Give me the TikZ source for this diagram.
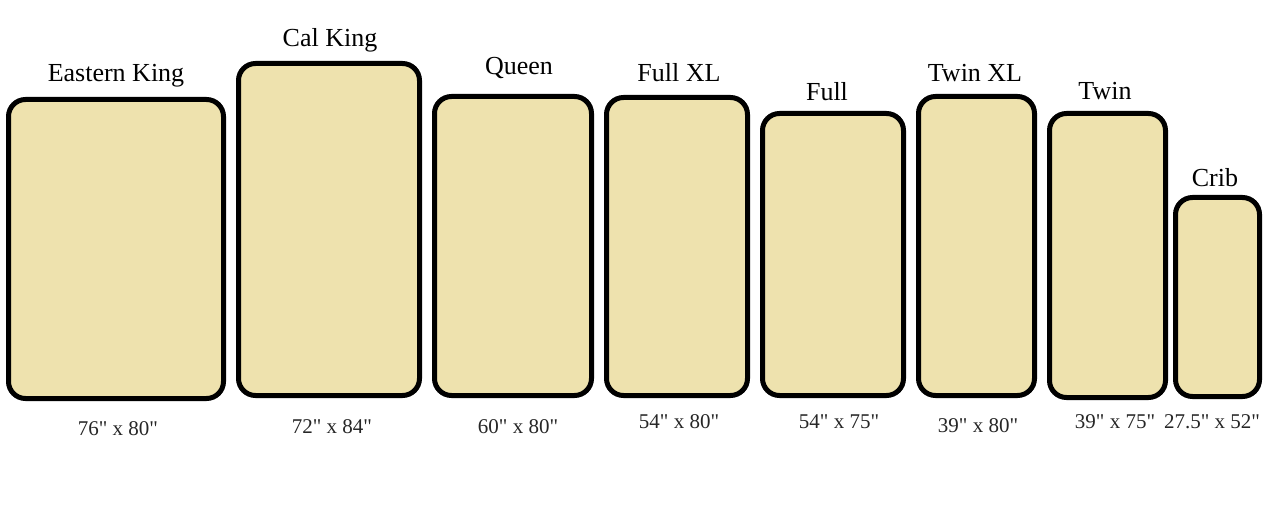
\documentclass[tikz,border=0pt]{standalone}
\usepackage{fontspec}
\setmainfont{Liberation Serif}[Ligatures=TeXOff]
\definecolor{mattressfill}{RGB}{238,226,174}
\tikzset{
  mattress/.style={draw=black, line width=5pt, fill=mattressfill, rounded corners=17pt},
  sizename/.style={anchor=base, font=\fontsize{26}{30}\selectfont, inner sep=0pt},
  sizedim/.style={anchor=base, font=\fontsize{21}{25}\selectfont, text=black!85, inner sep=0pt}
}
\begin{document}
\begin{tikzpicture}[x=1pt, y=-1pt]
  \useasboundingbox (0,0) rectangle (1269,505);

  % mattresses
  \draw[mattress] (8.5,99.5) rectangle (223.5,398.5);
  \draw[mattress] (238.5,63.5) rectangle (419.5,395.5);
  \draw[mattress] (434.5,96.5) rectangle (591.5,395.5);
  \draw[mattress] (606.5,97.5) rectangle (747.5,395.5);
  \draw[mattress] (762.5,113.5) rectangle (903.5,395.5);
  \draw[mattress] (918.5,96.5) rectangle (1034.5,395.5);
  \draw[mattress] (1049.5,113.5) rectangle (1165.5,397.5);
  \draw[mattress] (1175.5,197.5) rectangle (1259.5,396.5);

  % names
  \node[sizename] (eastking) at (116,82) {Eastern King};
  \node[sizename] (calking) at (330,47) {Cal King};
  \node[sizename] (queen) at (519,75) {Queen};
  \node[sizename] (fullxl) at (679,82) {Full XL};
  \node[sizename] (full) at (827,101) {Full};
  \node[sizename] (twinxl) at (975,82) {Twin XL};
  \node[sizename] (twin) at (1105,100) {Twin};
  \node[sizename] (crib) at (1215,187) {Crib};

  % dimensions
  \node[sizedim] (eastkingdim) at (118,435) {76" x 80"};
  \node[sizedim] (calkingdim) at (332,433) {72" x 84"};
  \node[sizedim] (queendim) at (518,433) {60" x 80"};
  \node[sizedim] (fullxldim) at (679,428) {54" x 80"};
  \node[sizedim] (fulldim) at (839,428) {54" x 75"};
  \node[sizedim] (twinxldim) at (978,432) {39" x 80"};
  \node[sizedim] (twindim) at (1115,428) {39" x 75"};
  \node[sizedim] (cribdim) at (1212,428) {27.5" x 52"};
\end{tikzpicture}
\end{document}
